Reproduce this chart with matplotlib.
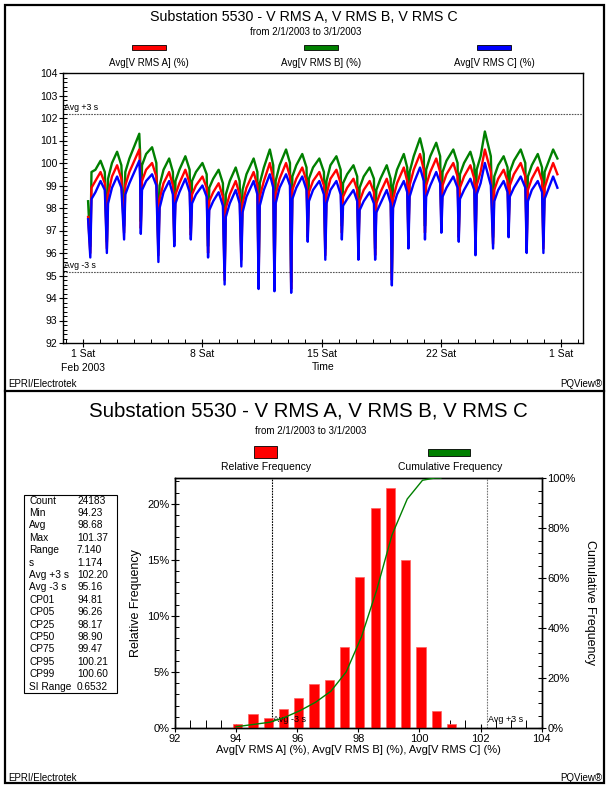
import matplotlib
matplotlib.use("Agg")
import matplotlib.pyplot as plt
from matplotlib.patches import Rectangle
from matplotlib.lines import Line2D
from matplotlib.ticker import MultipleLocator, FixedLocator, FuncFormatter

plt.rcParams['font.family'] = ['Liberation Sans', 'DejaVu Sans']

# ---- time trend (days since 2/1/2003) ----
day = [0.30,
       0.43, 0.50, 0.73, 1.03, 1.28,
       1.40, 1.47, 1.70, 2.00, 2.25,
       2.41, 2.48, 2.72, 3.30, 3.35,
       3.39, 3.46, 3.70, 4.05, 4.30,
       4.42, 4.49, 4.72, 5.05, 5.27,
       5.35, 5.42, 5.65, 6.00, 6.25,
       6.32, 6.39, 6.62, 7.00, 7.25,
       7.33, 7.40, 7.63, 7.95, 8.20,
       8.30, 8.37, 8.60, 8.95, 9.18,
       9.28, 9.35, 9.58, 10.00, 10.22,
       10.29, 10.36, 10.60, 10.95, 11.15,
       11.22, 11.29, 11.52, 11.90, 12.13,
       12.20, 12.27, 12.50, 12.85, 13.10,
       13.17, 13.24, 13.48, 13.85, 14.12,
       14.20, 14.27, 14.50, 14.85, 15.10,
       15.17, 15.24, 15.48, 15.85, 16.07,
       16.14, 16.21, 16.45, 16.80, 17.05,
       17.12, 17.19, 17.43, 17.80, 18.03,
       18.10, 18.17, 18.40, 18.80, 19.00,
       19.07, 19.14, 19.38, 19.75, 19.97,
       20.04, 20.11, 20.35, 20.70, 20.93,
       21.00, 21.07, 21.30, 21.70, 21.95,
       22.02, 22.09, 22.33, 22.70, 22.93,
       23.00, 23.07, 23.30, 23.55, 23.90,
       24.03, 24.10, 24.33, 24.65, 24.88,
       24.94, 25.01, 25.25, 25.65, 25.92,
       26.00, 26.07, 26.30, 26.65, 26.90,
       26.98, 27.05, 27.30, 27.55, 27.80]

vrms_a = [97.6,
          96.0, 98.9, 99.2, 99.6, 99.1,
          96.2, 98.6, 99.4, 99.9, 99.3,
          96.9, 99.0, 99.6, 100.6, 99.8,
          97.1, 99.2, 99.7, 100.0, 99.4,
          95.9, 98.4, 99.1, 99.6, 99.0,
          96.5, 98.6, 99.1, 99.7, 99.1,
          96.8, 98.6, 99.0, 99.4, 98.9,
          96.0, 98.3, 98.7, 99.1, 98.5,
          94.8, 98.0, 98.6, 99.2, 98.6,
          95.7, 98.2, 98.9, 99.6, 99.0,
          94.6, 98.5, 99.2, 100.0, 99.3,
          94.5, 98.6, 99.3, 100.0, 99.4,
          94.4, 98.8, 99.3, 99.8, 99.2,
          96.7, 98.7, 99.2, 99.6, 99.0,
          95.9, 98.6, 99.3, 99.7, 99.1,
          96.9, 98.5, 98.9, 99.3, 98.8,
          96.0, 98.3, 98.8, 99.2, 98.7,
          95.9, 98.2, 98.7, 99.3, 98.7,
          94.8, 98.4, 99.1, 99.8, 99.2,
          96.4, 99.0, 99.7, 100.4, 99.7,
          96.9, 99.0, 99.6, 100.2, 99.6,
          97.2, 99.0, 99.5, 100.0, 99.4,
          96.7, 98.9, 99.4, 99.9, 99.3,
          96.1, 99.0, 99.6, 100.6, 99.6,
          96.4, 98.8, 99.3, 99.7, 99.2,
          96.9, 99.0, 99.5, 100.0, 99.4,
          96.2, 98.8, 99.3, 99.8, 99.2,
          96.2, 98.9, 99.5, 100.0, 99.5]

vrms_b = [98.3,
          96.3, 99.6, 99.7, 100.1, 99.6,
          96.5, 99.3, 100.0, 100.5, 99.9,
          97.2, 99.6, 100.2, 101.3, 100.4,
          97.4, 99.9, 100.4, 100.7, 100.0,
          96.2, 99.0, 99.7, 100.2, 99.6,
          96.8, 99.2, 99.7, 100.3, 99.7,
          97.1, 99.2, 99.6, 100.0, 99.5,
          96.3, 98.9, 99.3, 99.7, 99.1,
          95.1, 98.6, 99.2, 99.8, 99.2,
          96.0, 98.8, 99.5, 100.2, 99.6,
          94.9, 99.1, 99.8, 100.6, 99.9,
          94.8, 99.2, 99.9, 100.6, 100.0,
          94.7, 99.4, 99.9, 100.4, 99.8,
          97.0, 99.3, 99.8, 100.2, 99.6,
          96.2, 99.2, 99.9, 100.3, 99.7,
          97.2, 99.1, 99.5, 99.9, 99.4,
          96.3, 98.9, 99.4, 99.8, 99.3,
          96.2, 98.8, 99.3, 99.9, 99.3,
          95.1, 99.0, 99.7, 100.4, 99.8,
          96.7, 99.6, 100.3, 101.1, 100.4,
          97.2, 99.7, 100.3, 100.9, 100.3,
          97.5, 99.6, 100.1, 100.6, 100.0,
          97.0, 99.5, 100.0, 100.5, 99.9,
          96.4, 99.7, 100.3, 101.4, 100.3,
          96.7, 99.4, 99.9, 100.3, 99.8,
          97.2, 99.6, 100.1, 100.6, 100.0,
          96.5, 99.4, 99.9, 100.4, 99.8,
          96.5, 99.6, 100.1, 100.6, 100.2]

vrms_c = [97.5,
          95.8, 98.4, 98.7, 99.2, 98.8,
          96.0, 98.2, 98.9, 99.4, 98.9,
          96.6, 98.6, 99.1, 100.1, 99.3,
          96.85, 98.8, 99.2, 99.5, 99.0,
          95.6, 98.0, 98.7, 99.2, 98.6,
          96.3, 98.2, 98.7, 99.3, 98.7,
          96.6, 98.2, 98.6, 99.0, 98.5,
          95.8, 97.9, 98.3, 98.7, 98.1,
          94.6, 97.6, 98.2, 98.8, 98.2,
          95.4, 97.8, 98.5, 99.2, 98.6,
          94.4, 98.1, 98.8, 99.5, 98.9,
          94.3, 98.2, 98.9, 99.5, 99.0,
          94.23, 98.4, 98.9, 99.4, 98.8,
          96.5, 98.3, 98.8, 99.2, 98.6,
          95.7, 98.2, 98.8, 99.2, 98.6,
          96.6, 98.1, 98.4, 98.8, 98.3,
          95.7, 97.9, 98.3, 98.7, 98.2,
          95.7, 97.8, 98.2, 98.8, 98.2,
          94.56, 98.0, 98.6, 99.2, 98.7,
          96.2, 98.5, 99.1, 99.8, 99.2,
          96.6, 98.5, 99.0, 99.6, 99.1,
          96.9, 98.5, 98.9, 99.4, 98.9,
          96.5, 98.4, 98.8, 99.3, 98.8,
          95.9, 98.6, 99.1, 100.0, 99.0,
          96.2, 98.3, 98.8, 99.2, 98.7,
          96.7, 98.5, 98.9, 99.4, 98.9,
          96.0, 98.3, 98.8, 99.2, 98.7,
          96.0, 98.4, 98.9, 99.4, 98.9]

avg_plus_3s = 102.20
avg_minus_3s = 95.16

week_ticks = [0, 7, 14, 21, 28]
week_labels = ['1 Sat\nFeb 2003', '8 Sat', '15 Sat', '22 Sat', '1 Sat']

# ---- histogram ----
bin_center = [94.05, 94.55, 95.05, 95.55, 96.05, 96.55, 97.05, 97.55,
              98.05, 98.55, 99.05, 99.55, 100.05, 100.55, 101.05]
rel_freq = [0.4, 1.25, 0.86, 1.7, 2.7, 3.9, 4.3, 7.26,
            13.45, 19.6, 21.4, 15.0, 7.26, 1.55, 0.4]
cum_x = [94.0, 95.1, 95.6, 96.1, 96.6, 97.1, 97.6, 98.1, 98.6, 99.1,
         99.6, 100.1, 100.5, 100.7]
cum_freq = [0.5, 2.3, 4.3, 7.0, 10.3, 14.7, 22.4, 36.4, 55.2, 77.2,
            91.6, 99.1, 100.0, 100.0]

stat_names = ['Count', 'Min', 'Avg', 'Max', 'Range', 's', 'Avg +3 s',
              'Avg -3 s', 'CP01', 'CP05', 'CP25', 'CP50', 'CP75', 'CP95',
              'CP99', 'SI Range']
stat_values = ['24183', '94.23', '98.68', '101.37', '7.140', '1.174',
               '102.20', '95.16', '94.81', '96.26', '98.17', '98.90',
               '99.47', '100.21', '100.60', '0.6532']

title = 'Substation 5530 - V RMS A, V RMS B, V RMS C'
subtitle = 'from 2/1/2003 to 3/1/2003'

W, H = 609, 785
fig = plt.figure(figsize=(W / 100, H / 100), dpi=100)


def fx(px):
    return px / W


def fy(py):
    return 1 - py / H


def style_ticks(ax, size=7.5):
    ax.tick_params(which='major', direction='inout', length=6, width=0.8,
                   labelsize=size, pad=1)
    ax.tick_params(which='minor', direction='in', length=3, width=0.7)


# outer frame and separator
fig.add_artist(Rectangle((fx(5), fy(783)), fx(599), fy(5) - fy(783),
                         transform=fig.transFigure, fill=False, lw=1.6,
                         edgecolor='black'))
fig.add_artist(Line2D([fx(5), fx(604)], [fy(391), fy(391)],
                      transform=fig.transFigure, color='black', lw=1.6))

# ================= top panel =================
ax1 = fig.add_axes([fx(63), fy(343), fx(520), fy(73) - fy(343)])
ax1.plot(day, vrms_b, color='#008000', lw=1.7, zorder=2)
ax1.plot(day, vrms_a, color='#ff0000', lw=1.7, zorder=3)
ax1.plot(day, vrms_c, color='#0000ff', lw=1.7, zorder=4)
for v in (avg_plus_3s, avg_minus_3s):
    ax1.axhline(v, color='#555555', lw=0.8, ls=(0, (1.5, 1)), zorder=1)
ax1.text(-1.1, avg_plus_3s + 0.08, 'Avg +3 s', fontsize=6.3, va='bottom')
ax1.text(-1.1, avg_minus_3s + 0.08, 'Avg -3 s', fontsize=6.3, va='bottom')
ax1.set_xlim(-1.17, 29.3)
ax1.set_ylim(92, 104)
ax1.set_xticks(week_ticks)
ax1.set_xticklabels(week_labels, linespacing=1.6)
ax1.xaxis.set_minor_locator(MultipleLocator(1))
ax1.yaxis.set_major_locator(MultipleLocator(1))
ax1.yaxis.set_minor_locator(MultipleLocator(0.2))
style_ticks(ax1)
for sp in ax1.spines.values():
    sp.set_linewidth(1.0)
ax1.set_xlabel('Time', fontsize=7.5, labelpad=-8)

fig.text(fx(304), fy(17), title, fontsize=10.3, ha='center', va='center')
fig.text(fx(306), fy(32), subtitle, fontsize=7, ha='center', va='center')
leg_top = [('Avg[V RMS A] (%)', '#ff0000', 149),
           ('Avg[V RMS B] (%)', '#008000', 321),
           ('Avg[V RMS C] (%)', '#0000ff', 494)]
for lab, col, cx in leg_top:
    fig.add_artist(Rectangle((fx(cx - 17), fy(50)), fx(34), fy(45) - fy(50),
                             transform=fig.transFigure, facecolor=col,
                             edgecolor='black', lw=0.6))
    fig.text(fx(cx), fy(63), lab, fontsize=7, ha='center', va='center')
fig.text(fx(8), fy(384), 'EPRI/Electrotek', fontsize=7, va='center')
fig.text(fx(602), fy(384), 'PQView®', fontsize=7, va='center', ha='right')

# ================= bottom panel =================
ax2 = fig.add_axes([fx(175), fy(728), fx(366.7), fy(478) - fy(728)])
ax3 = ax2.twinx()
ax2.bar(bin_center, rel_freq, width=0.3, color='#ff0000',
        edgecolor='#ff6060', lw=0.5, zorder=3)
ax3.plot(cum_x, cum_freq, color='#008000', lw=1.0, zorder=4)
ax2.axvline(avg_minus_3s, color='black', lw=0.8, ls=(0, (1.5, 1)), zorder=2)
ax2.axvline(avg_plus_3s, color='#777777', lw=0.8, ls=(0, (1.5, 1)), zorder=2)
ax2.text(avg_minus_3s + 0.05, 0.55, 'Avg -3 s', fontsize=6.5, zorder=5)
ax2.text(avg_plus_3s + 0.05, 0.55, 'Avg +3 s', fontsize=6.5, zorder=5)
ax2.set_xlim(92, 104)
ax2.set_ylim(0, 22.3)
ax3.set_ylim(0, 100)
ax2.xaxis.set_major_locator(MultipleLocator(2))
ax2.xaxis.set_minor_locator(MultipleLocator(0.5))
ax2.yaxis.set_major_locator(FixedLocator([0, 5, 10, 15, 20]))
ax2.yaxis.set_minor_locator(MultipleLocator(1))
ax3.yaxis.set_major_locator(FixedLocator([0, 20, 40, 60, 80, 100]))
ax3.yaxis.set_minor_locator(MultipleLocator(5))
pct = FuncFormatter(lambda v, p: f'{v:.0f}%')
ax2.yaxis.set_major_formatter(pct)
ax3.yaxis.set_major_formatter(pct)
style_ticks(ax2, 8)
style_ticks(ax3, 8)
ax2.tick_params(axis='x', which='minor', length=6)
for a in (ax2, ax3):
    for sp in a.spines.values():
        sp.set_linewidth(1.0)
ax2.set_xlabel('Avg[V RMS A] (%), Avg[V RMS B] (%), Avg[V RMS C] (%)',
               fontsize=8, labelpad=1)
ax2.set_ylabel('Relative Frequency', fontsize=9, labelpad=4)
ax3.set_ylabel('Cumulative Frequency', fontsize=9, rotation=-90,
               labelpad=15)

fig.text(fx(308), fy(411), title, fontsize=14.7, ha='center', va='center')
fig.text(fx(311), fy(431), subtitle, fontsize=7, ha='center', va='center')
fig.add_artist(Rectangle((fx(254), fy(458)), fx(23), fy(446) - fy(458),
                         transform=fig.transFigure, facecolor='#ff0000',
                         edgecolor='black', lw=0.6))
fig.add_artist(Rectangle((fx(428), fy(456)), fx(42), fy(449) - fy(456),
                         transform=fig.transFigure, facecolor='#008000',
                         edgecolor='black', lw=0.6))
fig.text(fx(266), fy(467), 'Relative Frequency', fontsize=7.5,
         ha='center', va='center')
fig.text(fx(450), fy(467), 'Cumulative Frequency', fontsize=7.5,
         ha='center', va='center')

# stats box
fig.add_artist(Rectangle((fx(24), fy(693)), fx(93), fy(495) - fy(693),
                         transform=fig.transFigure, fill=False, lw=0.8,
                         edgecolor='black'))
for i, (nm, val) in enumerate(zip(stat_names, stat_values)):
    yy = fy(500.5 + i * 12.4)
    fig.text(fx(29), yy, nm, fontsize=7.3, va='center')
    fig.text(fx(77), yy, val, fontsize=7.3, va='center')

fig.text(fx(8), fy(778), 'EPRI/Electrotek', fontsize=7, va='center')
fig.text(fx(602), fy(778), 'PQView®', fontsize=7, va='center', ha='right')

fig.savefig('out.png', dpi=100)
